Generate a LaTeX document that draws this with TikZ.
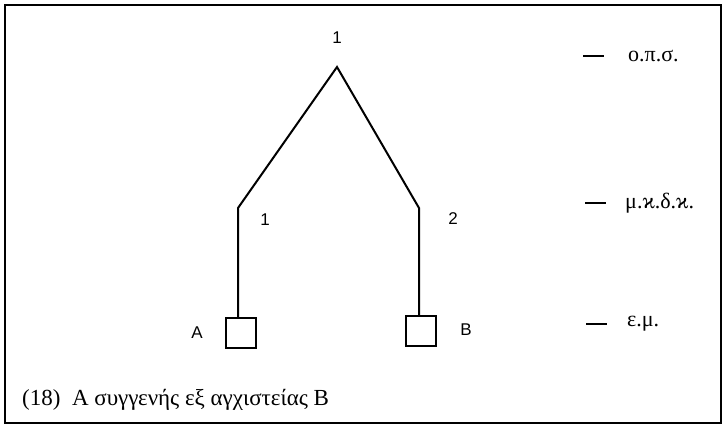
\documentclass[tikz,border=0pt]{standalone}
\usepackage{fontspec}
\setmainfont{Liberation Serif}
\newfontfamily\numfont{Liberation Sans}
\begin{document}
\begin{tikzpicture}[x=1pt,y=-1pt,
  line/.style={line width=2pt,line join=miter},
  person/.style={draw,line width=2pt,minimum size=30pt,inner sep=0pt},
  num/.style={font=\numfont\fontsize{17}{17}\selectfont,inner sep=0pt},
  lvl/.style={font=\fontsize{22}{22}\selectfont,inner sep=0pt,anchor=west},
  tick/.style={line width=2pt}]
\useasboundingbox (0,0) rectangle (725,427);
\draw[line width=1.5pt] (5,5) rectangle (721,423);
% genealogy
\coordinate (apex) at (337,67);
\coordinate (lk) at (238,208);
\coordinate (rk) at (419,208);
\node[person] (A) at (241,333) {};
\node[person] (B) at (421,331) {};
\draw[line] (A.north -| lk) -- (lk) -- (apex) -- (rk) -- (B.north -| rk);
\node[num] (n0) at (337,38) {1};
\node[num] (n1) at (265,220) {1};
\node[num] (n2) at (453,219) {2};
\node[num] (la) at (197,333) {A};
\node[num] (lb) at (466,330) {B};
% levels
\coordinate (t1a) at (583,56); \coordinate (t1b) at (604,56);
\coordinate (t2a) at (585,203); \coordinate (t2b) at (606,203);
\coordinate (t3a) at (586,324); \coordinate (t3b) at (607,324);
\draw[tick] (t1a) -- (t1b);
\draw[tick] (t2a) -- (t2b);
\draw[tick] (t3a) -- (t3b);
\node[lvl] (l1) at (628,56) {ο.π.σ.};
\node[lvl] (l2) at (625,203) {μ.ϰ.δ.ϰ.};
\node[lvl] (l3) at (627,324) {ε.μ.};
% caption
\node[font=\fontsize{23}{23}\selectfont,inner sep=0pt,anchor=west] (cap) at (22,400) {(18)\ \ Α συγγενής εξ αγχιστείας Β};
\end{tikzpicture}
\end{document}
